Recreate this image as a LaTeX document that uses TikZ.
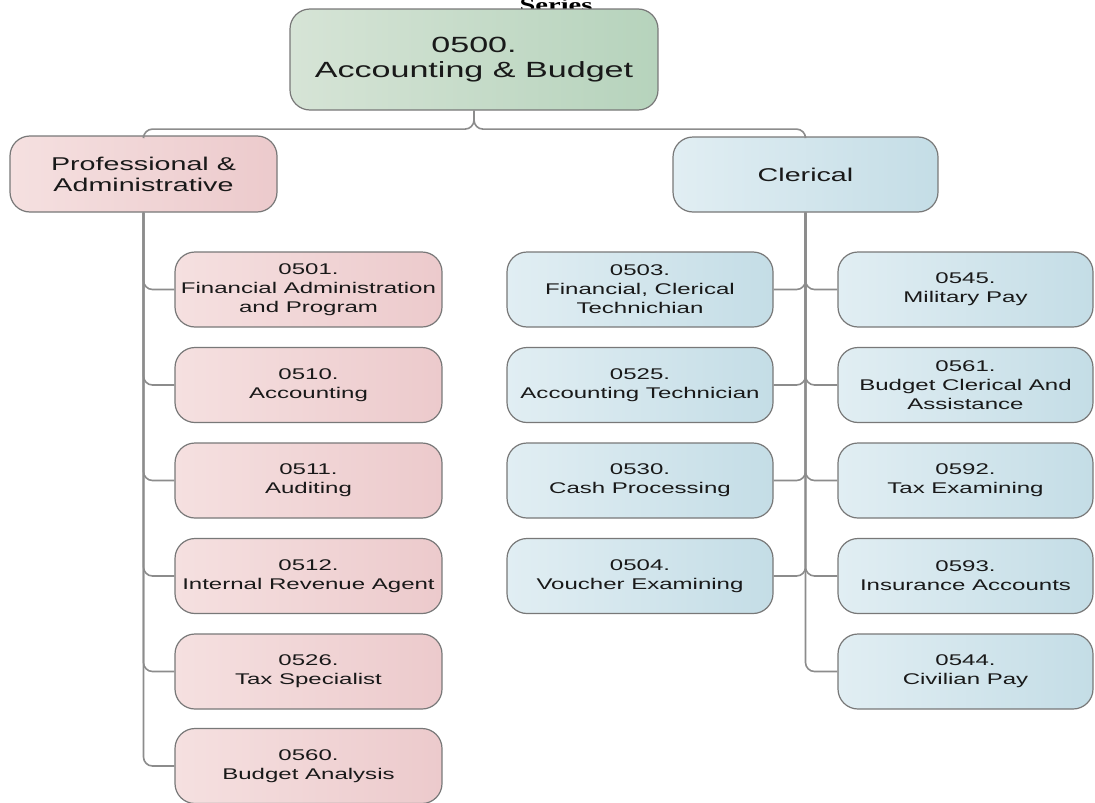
\documentclass[tikz,border=0pt]{standalone}
\usepackage{fontspec}
\setmainfont{Liberation Sans}[FakeStretch=1.55]
\newfontfamily\titlefont{Liberation Serif}[FakeStretch=1.5,BoldFont={* Bold}]

\definecolor{pinkL}{RGB}{245,224,224}
\definecolor{pinkD}{RGB}{236,202,204}
\definecolor{blueL}{RGB}{225,238,243}
\definecolor{blueD}{RGB}{196,221,230}
\definecolor{greenL}{RGB}{214,228,214}
\definecolor{greenD}{RGB}{182,211,188}
\definecolor{edge}{RGB}{120,120,120}
\definecolor{wire}{RGB}{140,140,140}
\definecolor{ink}{RGB}{25,25,25}

\tikzset{
  box/.style={draw=edge, line width=1.2pt, rounded corners=20pt,
    align=center, text=ink, inner sep=0pt},
  rootbox/.style={box, left color=greenL, right color=greenD,
    minimum width=368pt, minimum height=101pt,
    font=\fontsize{22}{25.5}\selectfont},
  groupP/.style={box, left color=pinkL, right color=pinkD,
    minimum width=267pt, minimum height=76pt,
    font=\fontsize{18.5}{21}\selectfont},
  groupC/.style={box, left color=blueL, right color=blueD,
    minimum width=265pt, minimum height=75pt,
    font=\fontsize{18.5}{21}\selectfont},
  pinkbox/.style={box, left color=pinkL, right color=pinkD,
    minimum width=267pt, minimum height=75pt,
    font=\fontsize{15.5}{19}\selectfont},
  bluebox/.style={box, left color=blueL, right color=blueD,
    minimum height=75pt, font=\fontsize{15.5}{19}\selectfont},
  midbox/.style={bluebox, minimum width=266pt},
  rightbox/.style={bluebox, minimum width=255pt},
  conn/.style={draw=wire, line width=1.6pt, rounded corners=9pt},
}

\begin{document}
\begin{tikzpicture}[x=1pt, y=-1pt]
\useasboundingbox (0,0) rectangle (1095,803);
\fill[white] (0,0) rectangle (1095,803);

% heading, partly above the page edge
\node[anchor=base, inner sep=0pt, text=black]
  (series) at (556,12) {\titlefont\bfseries\fontsize{19}{20}\selectfont Series};

% top level and the two groups
\node[rootbox] (root) at (474,59.5) {0500.\\Accounting \& Budget};
\node[groupP] (prof) at (143.5,174) {Professional \&\\Administrative};
\node[groupC] (cler) at (805.5,174.5) {Clerical};

% professional & administrative series
\node[pinkbox] (p1) at (308.5,289.5) {0501.\\Financial Administration\\and Program};
\node[pinkbox] (p2) at (308.5,385)   {0510.\\Accounting};
\node[pinkbox] (p3) at (308.5,480.5) {0511.\\Auditing};
\node[pinkbox] (p4) at (308.5,576)   {0512.\\Internal Revenue Agent};
\node[pinkbox] (p5) at (308.5,671.5) {0526.\\Tax Specialist};
\node[pinkbox] (p6) at (308.5,766)   {0560.\\Budget Analysis};

% clerical series, left column
\node[midbox] (m1) at (640,289.5) {0503.\\Financial, Clerical\\Technichian};
\node[midbox] (m2) at (640,385)   {0525.\\Accounting Technician};
\node[midbox] (m3) at (640,480.5) {0530.\\Cash Processing};
\node[midbox] (m4) at (640,576)   {0504.\\Voucher Examining};

% clerical series, right column
\node[rightbox] (r1) at (965.5,289.5) {0545.\\Military Pay};
\node[rightbox] (r2) at (965.5,385)   {0561.\\Budget Clerical And\\Assistance};
\node[rightbox] (r3) at (965.5,480.5) {0592.\\Tax Examining};
\node[rightbox] (r4) at (965.5,576)   {0593.\\Insurance Accounts};
\node[rightbox] (r5) at (965.5,671.5) {0544.\\Civilian Pay};

% connectors
\draw[conn] (root.south) -- ++(0,18.5) -| (prof.north);
\draw[conn] (root.south) -- ++(0,18.5) -| (cler.north);
\foreach \c in {p1,p2,p3,p4,p5,p6}
  \draw[conn] (prof.south) |- (\c.west);
\foreach \c in {m1,m2,m3,m4}
  \draw[conn] (cler.south) |- (\c.east);
\foreach \c in {r1,r2,r3,r4,r5}
  \draw[conn] (cler.south) |- (\c.west);
\end{tikzpicture}
\end{document}
